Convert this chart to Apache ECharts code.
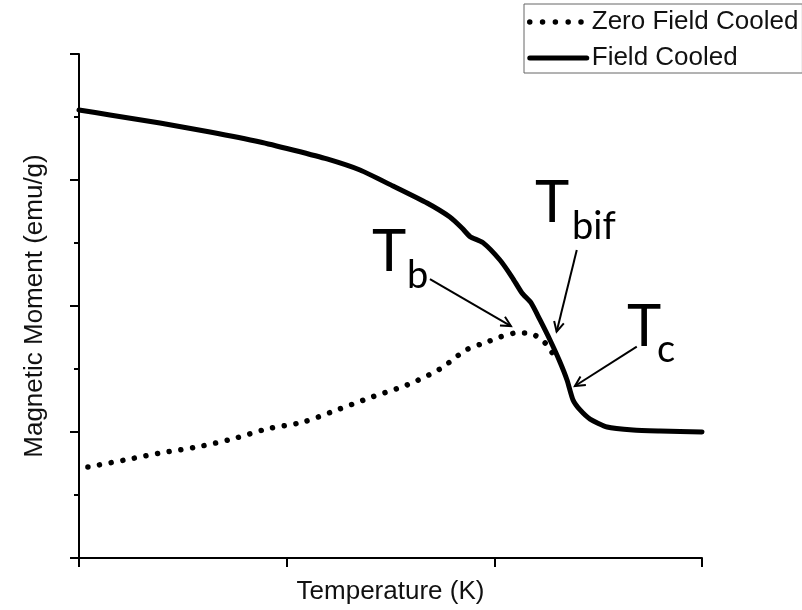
<!DOCTYPE html>
<html>
<head>
<meta charset="utf-8">
<script src="https://cdn.jsdelivr.net/npm/echarts@6/dist/echarts.min.js"></script>
<style>
  html, body { margin: 0; padding: 0; background: #fff; }
  #chart { width: 802px; height: 610px; }
</style>
</head>
<body>
<div id="chart"></div>
<script>
// Magnetisation vs temperature: zero-field-cooled and field-cooled branches
const seriesNames = ['Zero Field Cooled', 'Field Cooled'];

const fcTemperature = [0, 14.9, 39.0, 63.1, 87.2, 103.0, 119.4, 135.3, 151.2, 167.6, 178.6, 184.4, 188.3, 194.5,
  202.7, 208.5, 213.3, 217.7, 222.0, 226.8, 231.6, 235.0, 237.9, 241.3, 246.1, 254.3, 266.8, 279.8, 300];
const fcMoment = [35.56, 35.16, 34.52, 33.81, 33.02, 32.38, 31.67, 30.79, 29.52, 28.17, 27.06, 26.19, 25.51, 25.03,
  23.65, 22.30, 21.03, 20.24, 18.89, 17.30, 15.56, 14.13, 12.54, 11.75, 11.03, 10.40, 10.16, 10.08, 10.0];

const zfcTemperature = [4.3, 22.2, 39.0, 56.8, 73.7, 90.5, 107.9, 124.2, 141.1, 157.9, 173.8, 186.4, 196.5, 202.7,
  210.9, 216.2, 221.0, 225.4, 228.8];
const zfcMoment = [7.22, 7.78, 8.33, 8.81, 9.44, 10.24, 10.79, 11.75, 12.78, 13.73, 15.0, 16.51, 17.14, 17.54,
  17.86, 17.86, 17.54, 16.90, 16.03];

// Transition markers (temperature, moment): T with subscript, and an arrow to the curve
const markerSubs = ['b', 'bif', 'c'];
const markerMainAt = [[141.1, 24.30], [219.6, 28.15], [263.9, 18.30]];
const markerSubAt = [[157.9, 22.40], [237.4, 26.30], [278.3, 16.50]];
const arrowTail = [[169.0, 22.14], [239.7, 24.44], [268.6, 16.77]];
const arrowTip = [[208.0, 18.41], [230.0, 17.96], [238.8, 13.65]];

const zip = (xs, ys) => xs.map((x, i) => [x, ys[i]]);
const AXIS_FONT = 'Liberation Sans';
const MARK_FONT = 'Lato';

const chart = echarts.init(document.getElementById('chart'), null, { renderer: 'canvas' });

chart.setOption({
  animation: false,
  backgroundColor: '#fff',
  grid: { left: 79, right: 100, top: 54, bottom: 52, containLabel: false, outerBoundsMode: 'none' },
  legend: {
    data: [
      { name: seriesNames[0], lineStyle: { width: 5.5, type: [0.01, 12.8], cap: 'round', color: '#000' } },
      { name: seriesNames[1], lineStyle: { width: 5, type: 'solid', color: '#000' } }
    ],
    orient: 'vertical',
    left: 524,
    top: 4,
    padding: [5, 4, 2, 3],
    itemGap: 10,
    itemWidth: 57,
    itemHeight: 14,
    borderColor: '#666',
    borderWidth: 1,
    backgroundColor: '#fff',
    itemStyle: { opacity: 0, borderWidth: 0 },
    textStyle: { fontFamily: AXIS_FONT, fontSize: 26, color: '#111', lineHeight: 26 }
  },
  xAxis: {
    type: 'value',
    min: 0, max: 300, interval: 100,
    name: 'Temperature (K)',
    nameLocation: 'middle',
    nameGap: 21,
    nameTextStyle: { fontFamily: AXIS_FONT, fontSize: 26, color: '#111' },
    axisLine: { onZero: false, lineStyle: { color: '#000', width: 2 } },
    axisTick: { show: true, length: 9, lineStyle: { color: '#000', width: 2 } },
    axisLabel: { show: false },
    splitLine: { show: false }
  },
  yAxis: {
    type: 'value',
    min: 0, max: 40, interval: 10,
    name: 'Magnetic Moment (emu/g)',
    nameLocation: 'middle',
    nameGap: 31,
    nameTextStyle: { fontFamily: AXIS_FONT, fontSize: 26, color: '#111' },
    axisLine: { show: true, onZero: false, lineStyle: { color: '#000', width: 2 } },
    axisTick: { show: true, length: 9, lineStyle: { color: '#000', width: 2 } },
    minorTick: { show: true, splitNumber: 2, length: 5, lineStyle: { color: '#000', width: 2 } },
    axisLabel: { show: false },
    splitLine: { show: false }
  },
  series: [
    {
      name: seriesNames[0],
      type: 'line',
      data: zip(zfcTemperature, zfcMoment),
      showSymbol: false,
      symbol: 'none',
      smooth: 0.3,
      color: '#000',
      lineStyle: { color: '#000', width: 5.5, type: [0.01, 11.8], cap: 'round' },
      z: 3
    },
    {
      name: seriesNames[1],
      type: 'line',
      data: zip(fcTemperature, fcMoment),
      showSymbol: false,
      symbol: 'none',
      smooth: 0.2,
      color: '#000',
      lineStyle: { color: '#000', width: 5, cap: 'round', join: 'round' },
      z: 4
    }
  ]
});

// Marker labels and arrows, placed through the grid's own coordinate system
function toPx(p) { return chart.convertToPixel({ gridIndex: 0 }, p); }

const graphics = [];
markerSubs.forEach((sub, i) => {
  const m = toPx(markerMainAt[i]);
  const s = toPx(markerSubAt[i]);
  graphics.push({
    type: 'text', x: m[0], y: m[1], z: 10,
    style: { text: 'T', font: '58px ' + MARK_FONT, fill: '#000', align: 'left', verticalAlign: 'middle' }
  });
  graphics.push({
    type: 'text', x: s[0], y: s[1], z: 10,
    style: { text: sub, font: '38px ' + MARK_FONT, fill: '#000', align: 'left', verticalAlign: 'middle' }
  });
  const a = toPx(arrowTail[i]);
  const b = toPx(arrowTip[i]);
  const dx = b[0] - a[0], dy = b[1] - a[1];
  const len = Math.hypot(dx, dy);
  const ux = dx / len, uy = dy / len;
  const headLen = 11, ang = 27 * Math.PI / 180;
  const rot = (t) => [
    b[0] - headLen * (ux * Math.cos(t) - uy * Math.sin(t)),
    b[1] - headLen * (ux * Math.sin(t) + uy * Math.cos(t))
  ];
  graphics.push({
    type: 'line', z: 10,
    shape: { x1: a[0], y1: a[1], x2: b[0], y2: b[1] },
    style: { stroke: '#000', lineWidth: 2 }
  });
  graphics.push({
    type: 'polyline', z: 10,
    shape: { points: [rot(ang), b, rot(-ang)] },
    style: { stroke: '#000', lineWidth: 2, fill: null }
  });
});

chart.setOption({ graphic: graphics });
</script>
</body>
</html>
